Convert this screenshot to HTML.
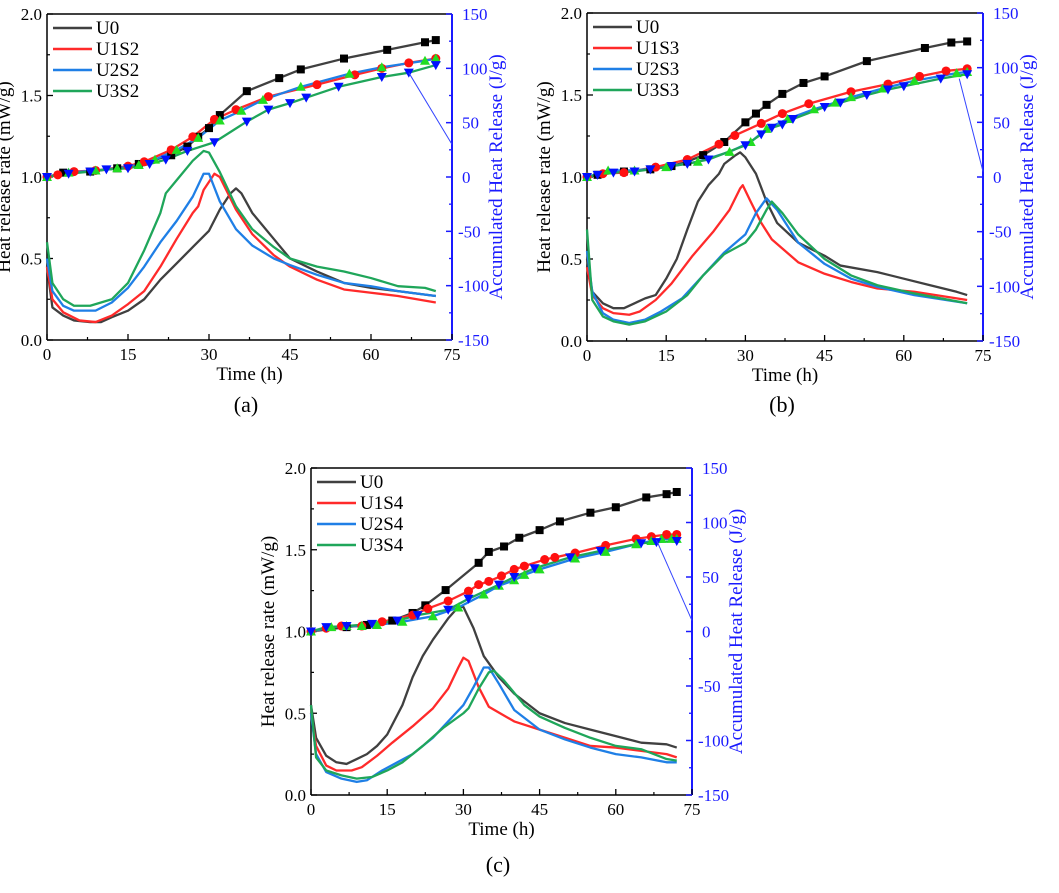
<!DOCTYPE html>
<html><head><meta charset="utf-8">
<style>
html,body{margin:0;padding:0;background:#fff;}
svg{display:block;font-family:"Liberation Serif",serif;}
</style></head>
<body>
<svg id="chart" width="1059" height="893" viewBox="0 0 1059 893" xmlns="http://www.w3.org/2000/svg"></svg>
<script>
const xTicks=[0,15,30,45,60,75];
const yTicksLeft=[0.0,0.5,1.0,1.5,2.0];
const yTicksRight=[-150,-100,-50,0,50,100,150];
const seriesNamesA=["U0","U1S2","U2S2","U3S2"];
const seriesNamesB=["U0","U1S3","U2S3","U3S3"];
const seriesNamesC=["U0","U1S4","U2S4","U3S4"];

const hrrA_U0=[[0,0.45],[1,0.2],[3,0.15],[5,0.12],[8,0.11],[10,0.11],[12,0.14],[15,0.18],[18,0.25],[21,0.37],[24,0.47],[27,0.57],[30,0.67],[32,0.8],[34,0.9],[35,0.93],[36,0.9],[38,0.78],[42,0.62],[45,0.5],[50,0.42],[55,0.35],[60,0.32],[65,0.3],[72,0.27]];
const hrrA_U1=[[0,0.45],[1,0.25],[3,0.17],[6,0.12],[9,0.11],[12,0.15],[15,0.22],[18,0.3],[21,0.45],[24,0.62],[27,0.78],[28,0.82],[29,0.92],[31,1.02],[32,1.0],[35,0.8],[38,0.65],[42,0.52],[45,0.45],[50,0.37],[55,0.31],[60,0.29],[65,0.27],[72,0.23]];
const hrrA_U2=[[0,0.5],[1,0.3],[3,0.21],[5,0.18],[9,0.18],[12,0.23],[15,0.32],[18,0.45],[21,0.6],[24,0.73],[27,0.88],[29,1.02],[30,1.02],[32,0.85],[35,0.68],[38,0.58],[42,0.5],[45,0.46],[50,0.4],[55,0.35],[60,0.33],[65,0.3],[72,0.27]];
const hrrA_U3=[[0,0.6],[1,0.35],[3,0.25],[5,0.21],[8,0.21],[12,0.25],[15,0.35],[18,0.55],[21,0.78],[22,0.9],[24,0.98],[27,1.1],[29,1.16],[30,1.15],[32,1.03],[35,0.82],[38,0.68],[42,0.57],[45,0.5],[50,0.45],[55,0.42],[60,0.38],[65,0.33],[70,0.32],[72,0.3]];
const cumA_U0=[[0,0],[3,4],[8,5],[13,8],[17,12],[23,20],[26,28],[28,37],[30,45],[32,57],[37,79],[43,91],[47,99],[55,109],[63,117],[70,124],[72,126]];
const cumA_U1=[[0,0],[2,2],[5,5],[9,6],[15,10],[18,14],[23,25],[27,37],[31,53],[35,62],[41,74],[50,85],[57,94],[62,100],[67,105],[72,109]];
const cumA_U2=[[0,0],[4,4],[9,6],[13,8],[17,11],[20,16],[24,25],[28,36],[32,52],[36,61],[40,71],[47,83],[56,95],[62,101],[70,107],[72,109]];
const cumA_U3=[[0,0],[4,3],[8,5],[11,7],[15,8],[19,12],[22,16],[26,24],[31,32],[37,51],[41,62],[45,68],[48,73],[54,83],[62,92],[67,96],[72,103]];

const hrrB_U0=[[0,0.5],[1,0.3],[3,0.23],[5,0.2],[7,0.2],[9,0.23],[11,0.26],[13,0.28],[15,0.38],[17,0.5],[19,0.68],[21,0.85],[23,0.95],[25,1.02],[26,1.08],[28,1.13],[29,1.15],[30,1.12],[32,1.02],[34,0.85],[36,0.72],[40,0.6],[45,0.52],[48,0.46],[55,0.42],[60,0.38],[65,0.34],[70,0.3],[72,0.28]];
const hrrB_U1=[[0,0.45],[1,0.28],[3,0.2],[5,0.17],[8,0.16],[10,0.18],[13,0.25],[16,0.35],[20,0.52],[24,0.67],[27,0.8],[29,0.93],[29.5,0.95],[31,0.85],[33,0.72],[35,0.62],[40,0.48],[45,0.41],[50,0.36],[55,0.32],[62,0.3],[72,0.25]];
const hrrB_U2=[[0,0.55],[1,0.3],[3,0.17],[5,0.13],[8,0.11],[11,0.13],[14,0.18],[18,0.26],[22,0.4],[26,0.54],[30,0.65],[32,0.78],[34,0.87],[36,0.8],[40,0.6],[45,0.47],[50,0.38],[55,0.33],[62,0.28],[72,0.23]];
const hrrB_U3=[[0,0.68],[1,0.25],[3,0.15],[5,0.12],[8,0.1],[11,0.12],[15,0.18],[19,0.28],[22,0.4],[26,0.53],[30,0.6],[32,0.68],[34,0.8],[35,0.85],[37,0.78],[40,0.65],[45,0.5],[50,0.4],[55,0.34],[62,0.29],[72,0.23]];
const cumB_U0=[[0,0],[2,2],[7,5],[12,7],[16,10],[19,14],[22,20],[26,32],[30,50],[32,58],[34,66],[37,76],[41,86],[45,92],[53,106],[64,118],[69,123],[72,124]];
const cumB_U1=[[0,0],[3,3],[7,4],[13,9],[19,16],[25,30],[28,38],[33,49],[37,58],[42,67],[50,78],[57,85],[63,92],[68,97],[72,99]];
const cumB_U2=[[0,0],[4,6],[9,6],[15,9],[21,14],[27,23],[31,32],[34,44],[38,53],[43,62],[47,68],[50,73],[56,81],[62,88],[70,95],[72,96]];
const cumB_U3=[[0,0],[2,2],[5,4],[9,5],[12,7],[16,10],[19,12],[23,16],[30,29],[33,39],[35,45],[37,48],[39,53],[45,64],[48,68],[53,75],[57,80],[60,83],[67,90],[72,94]];

const hrrC_U0=[[0,0.55],[1,0.35],[3,0.24],[5,0.2],[7,0.19],[9,0.22],[11,0.25],[13,0.3],[15,0.37],[18,0.55],[20,0.72],[22,0.85],[24,0.95],[27,1.08],[29,1.15],[30,1.15],[32,1.02],[34,0.85],[37,0.72],[40,0.62],[45,0.5],[50,0.44],[55,0.4],[60,0.36],[65,0.32],[70,0.31],[72,0.29]];
const hrrC_U1=[[0,0.5],[1,0.3],[3,0.18],[5,0.15],[8,0.15],[10,0.17],[13,0.24],[16,0.32],[20,0.42],[24,0.53],[27,0.65],[29,0.78],[30,0.84],[31,0.82],[33,0.66],[35,0.54],[40,0.45],[45,0.4],[50,0.35],[55,0.3],[60,0.29],[65,0.27],[70,0.25],[72,0.23]];
const hrrC_U2=[[0,0.5],[1,0.25],[3,0.14],[6,0.1],[9,0.08],[11,0.09],[14,0.15],[17,0.2],[20,0.25],[24,0.35],[27,0.45],[30,0.55],[32,0.66],[34,0.78],[35,0.78],[37,0.68],[40,0.52],[45,0.4],[50,0.34],[55,0.29],[60,0.25],[65,0.23],[70,0.2],[72,0.2]];
const hrrC_U3=[[0,0.55],[1,0.23],[3,0.15],[6,0.12],[9,0.1],[12,0.11],[15,0.15],[18,0.2],[22,0.3],[26,0.41],[30,0.5],[31,0.53],[33,0.65],[35,0.75],[36,0.76],[38,0.7],[42,0.55],[45,0.48],[50,0.41],[55,0.35],[60,0.3],[65,0.28],[70,0.22],[72,0.21]];
const cumC_U0=[[0,0],[7,4],[11,6],[16,10],[20,17],[22.5,24],[26.5,38],[33,63],[35,73],[38,78],[41,86],[45,93],[49,101],[55,109],[60,114],[66,123],[70,126],[72,128]];
const cumC_U1=[[0,0],[3,3],[6,5],[10,5],[14,9],[20,15],[23,21],[27,28],[31,37],[33,43],[35,46],[37.5,51],[40,57],[42,60],[46,66],[48,68],[52,72],[58,79],[64,85],[67,87],[70,89],[72,89]];
const cumC_U2=[[0,0],[4,4],[7,5],[10,5],[13,6],[18,9],[24,14],[29,22],[34,34],[37,42],[40,47],[42,52],[45,57],[52,67],[58,73],[64,80],[67,83],[69,85],[71,85],[72,85]];
const cumC_U3=[[0,0],[3,4],[7,5],[12,7],[17,10],[21,15],[27,20],[31,30],[37,43],[40,50],[44,58],[51,68],[57,74],[65,81],[68,82],[72,83]];

const panels=[
 {id:"a",names:seriesNamesA,hrr:[hrrA_U0,hrrA_U1,hrrA_U2,hrrA_U3],cum:[cumA_U0,cumA_U1,cumA_U2,cumA_U3],x0:47,x1:452,yT:14,yB:340,arrow:[[67,96],[75,30]],label:[246,412]},
 {id:"b",names:seriesNamesB,hrr:[hrrB_U0,hrrB_U1,hrrB_U2,hrrB_U3],cum:[cumB_U0,cumB_U1,cumB_U2,cumB_U3],x0:587,x1:983,yT:13,yB:341,arrow:[[75,5],[70.5,90]],label:[782,412]},
 {id:"c",names:seriesNamesC,hrr:[hrrC_U0,hrrC_U1,hrrC_U2,hrrC_U3],cum:[cumC_U0,cumC_U1,cumC_U2,cumC_U3],x0:311,x1:692,yT:468,yB:795,arrow:[[75,10],[68,84]],label:[498,872]}
];
const lineColors=["#404040","#ff2a2a","#1f7fe6","#1fa65a"];
const cumLineColors=["#404040","#ff2a2a","#1f7fe6","#1fa65a"];
const markerKinds=["square","circle","tri-up","tri-down"];
const markerColors=["#000000","#ff1010","#22dd22","#0010ff"];
const BLUE="#1a1aff";

const NS="http://www.w3.org/2000/svg";
const svg=document.getElementById("chart");
function mk(tag,attrs,parent){const e=document.createElementNS(NS,tag);for(const k in attrs)e.setAttribute(k,attrs[k]);(parent||svg).appendChild(e);return e;}

panels.forEach(p=>{
 const g=mk("g",{});
 
 
 const xs=t=>p.x0+(t/75)*(p.x1-p.x0);
 const yl=v=>p.yB-(v/2)*(p.yB-p.yT);
 const yr=v=>p.yB-((v+150)/300)*(p.yB-p.yT);
 const top=mk("line",{x1:p.x0,y1:p.yT,x2:p.x1,y2:p.yT,stroke:"#000","stroke-width":1.5},g);
 
 
 const la=mk("line",{x1:p.x0,y1:p.yT,x2:p.x0,y2:p.yB,stroke:"#000","stroke-width":1.5},g);
 
 
 const ba=mk("line",{x1:p.x0,y1:p.yB,x2:p.x1,y2:p.yB,stroke:"#000","stroke-width":1.5},g);
 
 
 const ra=mk("line",{x1:p.x1,y1:p.yT,x2:p.x1,y2:p.yB,stroke:BLUE,"stroke-width":2},g);
 
 
 xTicks.forEach((t,i)=>{
  mk("line",{x1:xs(t),y1:p.yB,x2:xs(t),y2:p.yB-6,stroke:"#000","stroke-width":1.3},g);
  if(i<xTicks.length-1) mk("line",{x1:xs(t+7.5),y1:p.yB,x2:xs(t+7.5),y2:p.yB-3,stroke:"#000","stroke-width":1.2},g);
  const tx=mk("text",{x:xs(t),y:p.yB+20,"font-size":17,"text-anchor":"middle",fill:"#000"},g);
  tx.textContent=t;
  
  
 });
 yTicksLeft.forEach((v,i)=>{
  mk("line",{x1:p.x0,y1:yl(v),x2:p.x0+6,y2:yl(v),stroke:"#000","stroke-width":1.3},g);
  if(i<yTicksLeft.length-1) mk("line",{x1:p.x0,y1:yl(v+0.25),x2:p.x0+3,y2:yl(v+0.25),stroke:"#000","stroke-width":1.2},g);
  const tx=mk("text",{x:p.x0-5,y:yl(v)+6,"font-size":17,"text-anchor":"end",fill:"#000"},g);
  tx.textContent=v.toFixed(1);
  
  
 });
 yTicksRight.forEach((v,i)=>{
  mk("line",{x1:p.x1,y1:yr(v),x2:p.x1-6,y2:yr(v),stroke:BLUE,"stroke-width":1.5},g);
  if(i<yTicksRight.length-1) mk("line",{x1:p.x1,y1:yr(v+25),x2:p.x1-3,y2:yr(v+25),stroke:BLUE,"stroke-width":1.3},g);
  const tx=mk("text",{x:p.x1+(v<0?6:10),y:yr(v)+6,"font-size":17,"text-anchor":"start",fill:BLUE},g);
  tx.textContent=v;
  
  
 });
 const xt=mk("text",{x:(p.x0+p.x1)/2,y:p.yB+40,"font-size":19,"text-anchor":"middle",fill:"#000"},g);
 xt.textContent="Time (h)";
 
 
 const lx=p.x0-37, ly=(p.yT+p.yB)/2;
 const yt=mk("text",{x:lx,y:ly,"font-size":19,"text-anchor":"middle",fill:"#000",transform:`rotate(-90 ${lx} ${ly})`},g);
 yt.textContent="Heat release rate (mW/g)";
 
 
 const rx=p.x1+50;
 const rt=mk("text",{x:rx,y:ly,"font-size":19,"text-anchor":"middle",fill:BLUE,transform:`rotate(-90 ${rx} ${ly})`},g);
 rt.textContent="Accumulated Heat Release (J/g)";
 
 
 const pl=mk("text",{x:p.label[0],y:p.label[1],"font-size":22,"text-anchor":"middle",fill:"#000"},g);
 pl.textContent="("+p.id+")";
 
 
 p.hrr.forEach((s,i)=>{
  const pth=mk("polyline",{points:s.map(d=>xs(d[0])+","+yl(d[1])).join(" "),fill:"none",stroke:lineColors[i],"stroke-width":2.3,"stroke-linejoin":"round"},g);
  
  
 });
 p.cum.forEach((s,i)=>{
  const pth=mk("polyline",{points:s.map(d=>xs(d[0])+","+yr(d[1])).join(" "),fill:"none",stroke:cumLineColors[i],"stroke-width":2.3,"stroke-linejoin":"round"},g);
  
  
 });
 p.cum.forEach((s,i)=>{
  s.forEach(d=>{
   const cx=xs(d[0]),cy=yr(d[1]),r=4,c=markerColors[i];let m;
   if(markerKinds[i]==="square") m=mk("rect",{x:cx-r,y:cy-r,width:2*r,height:2*r,fill:c},g);
   else if(markerKinds[i]==="circle") m=mk("circle",{cx:cx,cy:cy,r:r+0.5,fill:c},g);
   else if(markerKinds[i]==="tri-up") m=mk("polygon",{points:`${cx},${cy-r-1} ${cx-r-1},${cy+r} ${cx+r+1},${cy+r}`,fill:c},g);
   else m=mk("polygon",{points:`${cx},${cy+r+1} ${cx-r-1},${cy-r} ${cx+r+1},${cy-r}`,fill:c},g);
   
   
  });
 });
 const a0=p.arrow[0],a1=p.arrow[1];
 const ar=mk("line",{x1:xs(a0[0]),y1:yr(a0[1]),x2:xs(a1[0]),y2:yr(a1[1]),stroke:"#3344ff","stroke-width":1},g);
 
 
 p.names.forEach((n,i)=>{
  const y=p.yT+14+i*21;
  const ll=mk("line",{x1:p.x0+6,y1:y,x2:p.x0+45,y2:y,stroke:lineColors[i],"stroke-width":2.5},g);
  
  
  const lt=mk("text",{x:p.x0+49,y:y+6,"font-size":19,fill:"#000"},g);
  lt.textContent=n;
  
  
 });
});
</script>
</body></html>
